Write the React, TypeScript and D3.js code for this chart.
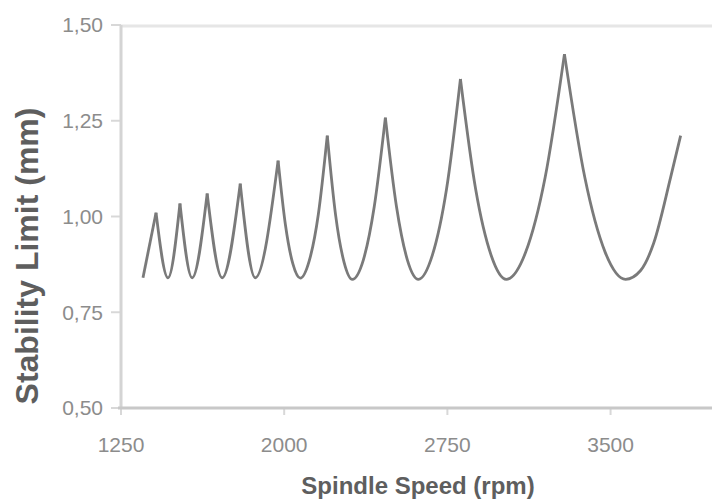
import React from "react";
import * as d3 from "d3";

// Spindle speed (rpm) / stability limit (mm), grouped per lobe
const lobe0Speed = [1351, 1411];
const lobe0Limit = [0.84, 1.01];
const lobe1Speed = [1411, 1466, 1521];
const lobe1Limit = [1.01, 0.84, 1.034];
const lobe2Speed = [1521, 1577, 1646];
const lobe2Limit = [1.034, 0.84, 1.06];
const lobe3Speed = [1646, 1715, 1798];
const lobe3Limit = [1.06, 0.84, 1.086];
const lobe4Speed = [1798, 1867, 1972];
const lobe4Limit = [1.086, 0.84, 1.146];
const lobe5Speed = [1972, 2006, 2040, 2074, 2115, 2157, 2198];
const lobe5Limit = [1.146, 0.977, 0.876, 0.839, 0.884, 1.006, 1.211];
const lobe6Speed = [2198, 2236, 2275, 2313, 2364, 2414, 2465];
const lobe6Limit = [1.211, 1.005, 0.881, 0.836, 0.887, 1.026, 1.258];
const lobe7Speed = [2465, 2516, 2566, 2617, 2681, 2746, 2810];
const lobe7Limit = [1.258, 1.026, 0.887, 0.836, 0.899, 1.071, 1.359];
const lobe8Speed = [2810, 2880, 2951, 3021, 3110, 3199, 3288];
const lobe8Limit = [1.359, 1.071, 0.899, 0.836, 0.907, 1.101, 1.424];
const lobe9Speed = [3288, 3382, 3475, 3569, 3638, 3698, 3776, 3822];
const lobe9Limit = [1.424, 1.101, 0.907, 0.836, 0.859, 0.93, 1.102, 1.211];

const xTicks = [1250, 2000, 2750, 3500];
const yTicks = [0.5, 0.75, 1.0, 1.25, 1.5];

const lobes = [
  [lobe0Speed, lobe0Limit],
  [lobe1Speed, lobe1Limit],
  [lobe2Speed, lobe2Limit],
  [lobe3Speed, lobe3Limit],
  [lobe4Speed, lobe4Limit],
  [lobe5Speed, lobe5Limit],
  [lobe6Speed, lobe6Limit],
  [lobe7Speed, lobe7Limit],
  [lobe8Speed, lobe8Limit],
  [lobe9Speed, lobe9Limit],
];

export default function App() {
  const W = 712;
  const H = 499;
  const left = 121;
  const top = 25;
  const bottom = 408;
  const x = d3.scaleLinear().domain([1250, 3934]).range([left, 705]);
  const y = d3.scaleLinear().domain([0.5, 1.5]).range([bottom, top]);
  const line = d3
    .line<[number, number]>()
    .x((d) => x(d[0]))
    .y((d) => y(d[1]))
    .curve(d3.curveMonotoneX);
  const font = "'Liberation Sans', Arial, sans-serif";
  const fmt = (v: number) => v.toFixed(2).replace(".", ",");

  return (
    <svg
      width={W}
      height={H}
      style={{ position: "absolute", left: 0, top: 0, background: "#fff" }}
    >
      <line x1={left} x2={W} y1={top + 1} y2={top + 1} stroke="#e6e6e6" strokeWidth={3} />
      {yTicks.map((t) => (
        <g key={t}>
          <line x1={left - 10} x2={left} y1={y(t)} y2={y(t)} stroke="#d8d8d8" strokeWidth={2} />
          <text
            x={103}
            y={y(t)}
            dy="0.35em"
            textAnchor="end"
            fontFamily={font}
            fontSize={21}
            fill="#8c8c8c"
          >
            {fmt(t)}
          </text>
        </g>
      ))}
      {xTicks.map((t) => (
        <g key={t}>
          <line x1={x(t)} x2={x(t)} y1={bottom} y2={bottom + 7} stroke="#d8d8d8" strokeWidth={2} />
          <text
            x={x(t)}
            y={452}
            textAnchor="middle"
            fontFamily={font}
            fontSize={21}
            fill="#8c8c8c"
          >
            {t}
          </text>
        </g>
      ))}
      <line x1={left} x2={left} y1={top} y2={bottom} stroke="#d4d4d4" strokeWidth={3} />
      <line x1={left - 3} x2={W} y1={bottom} y2={bottom} stroke="#c8c8c8" strokeWidth={3} />
      {lobes.map(([s, l], i) => (
        <path
          key={i}
          d={line(s.map((v, j) => [v, l[j]] as [number, number])) || ""}
          fill="none"
          stroke="#7a7a7a"
          strokeWidth={2.8}
          strokeLinejoin="miter"
        />
      ))}
      <text
        x={418}
        y={494}
        textAnchor="middle"
        fontFamily={font}
        fontWeight="bold"
        fontSize={24}
        fill="#5e5e5e"
      >
        Spindle Speed (rpm)
      </text>
      <text
        transform="translate(38,256) rotate(-90)"
        textAnchor="middle"
        fontFamily={font}
        fontWeight="bold"
        fontSize={32}
        fill="#5e5e5e"
      >
        Stability Limit (mm)
      </text>
    </svg>
  );
}
